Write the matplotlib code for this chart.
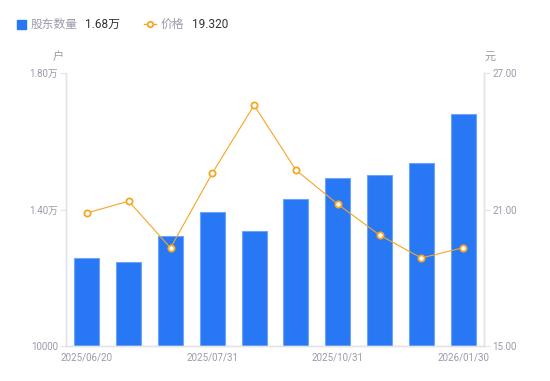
import matplotlib
matplotlib.use("Agg")
import matplotlib.pyplot as plt
from matplotlib.lines import Line2D
from matplotlib.patches import Rectangle

plt.rcParams['font.family'] = ['Roboto', 'Noto Sans CJK SC', 'DejaVu Sans']

dates = ['2025/06/20', '2025/06/30', '2025/07/20', '2025/07/31', '2025/08/31',
         '2025/09/30', '2025/10/31', '2025/11/30', '2025/12/31', '2026/01/30']
holders = [12580, 12460, 13220, 13930, 13370, 14310, 14920, 15010, 15360, 16800]
price = [20.85, 21.37, 19.31, 22.60, 25.59, 22.74, 21.24, 19.88, 18.87, 19.32]

blue = '#2878F5'
orange = '#F5A623'
gray = '#9A9AAA'
axis_c = '#E3E3E8'

fig = plt.figure(figsize=(5.5, 3.81), dpi=100)
ax = fig.add_axes([0.12, 0.092, 0.76, 0.716])
x = list(range(len(dates)))
ax.bar(x, holders, width=0.6, color=blue, edgecolor='#6FA4F8', linewidth=0.8, zorder=2)
ax.set_xlim(-0.5, len(dates) - 0.5)
ax.set_ylim(10000, 18000)
ax.set_yticks([10000, 14000, 18000])
ax.set_yticklabels(['10000', '1.40万', '1.80万'])
ax.set_xticks([0, 3, 6, 9])
ax.set_xticklabels([dates[i] for i in [0, 3, 6, 9]])

ax2 = ax.twinx()
ax2.plot(x, price, color=orange, lw=0.8, marker='o', markersize=4.5,
         markerfacecolor='white', markeredgecolor=orange, markeredgewidth=1.3, zorder=3)
ax2.set_ylim(15, 27)
ax2.set_yticks([15, 21, 27])
ax2.set_yticklabels(['15.00', '21.00', '27.00'])

for a in (ax, ax2):
    a.spines['top'].set_visible(False)
    for s in ['left', 'right', 'bottom']:
        a.spines[s].set_color(axis_c)
        a.spines[s].set_linewidth(1)
    a.tick_params(colors=axis_c, labelcolor=gray, labelsize=7, length=4, width=0.8)
ax.tick_params(axis='x', length=0, pad=5)
ax.tick_params(axis='y', pad=2)
ax2.tick_params(axis='y', pad=2)

fig.text(58 / 550, 1 - 57 / 381, '户', color=gray, fontsize=8, ha='center', va='center')
fig.text(490 / 550, 1 - 57 / 381, '元', color=gray, fontsize=8, ha='center', va='center')

# legend at top
ly = 1 - 24 / 381
fig.patches.append(Rectangle((17 / 550, ly - 4.5 / 381), 9 / 550, 9 / 381,
                             transform=fig.transFigure, color=blue, figure=fig))
fig.text(31 / 550, ly, '股东数量', color=gray, fontsize=8.5, va='center')
fig.text(85 / 550, ly, '1.68万', color='#333333', fontsize=8.5, va='center')
fig.lines.append(Line2D([144 / 550, 156 / 550], [ly, ly], transform=fig.transFigure,
                        color=orange, lw=1, figure=fig))
fig.lines.append(Line2D([150 / 550], [ly], transform=fig.transFigure, color=orange,
                        marker='o', markersize=4, markerfacecolor='white',
                        markeredgewidth=1.3, linestyle='none', figure=fig))
fig.text(161 / 550, ly, '价格', color=gray, fontsize=8.5, va='center')
fig.text(192 / 550, ly, '19.320', color='#333333', fontsize=8.5, va='center')

fig.savefig('out.png', dpi=100)
